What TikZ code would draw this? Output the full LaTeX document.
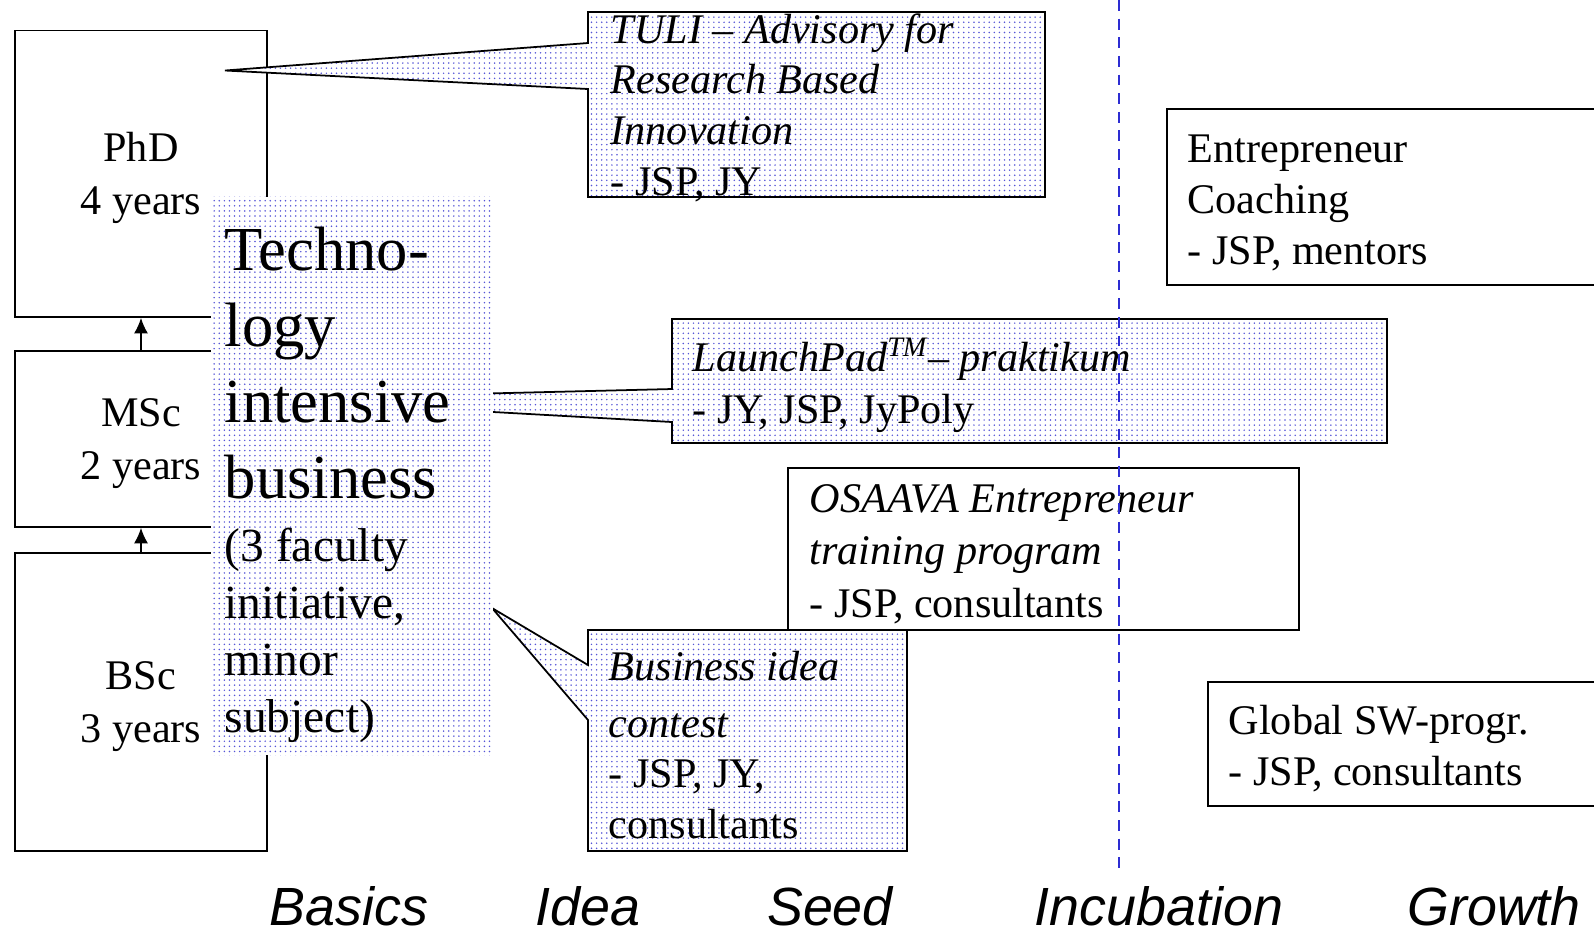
\documentclass[tikz,border=0pt]{standalone}
\usepackage{fontspec}
\setmainfont{Liberation Serif}
\newfontfamily\phasefont{Liberation Sans}
\usetikzlibrary{arrows.meta,patterns.meta}
\definecolor{dotblue}{RGB}{85,85,215}
\definecolor{divider}{RGB}{45,45,210}
\tikzstyle{study box}=[draw, line width=.5pt, align=center, font=\fontsize{12}{15}\selectfont]
\tikzstyle{plain box}=[draw, line width=.5pt]
\tikzstyle{dotty}=[preaction={fill=white}, pattern={Dots[distance=1.45pt,radius=.24pt]}, pattern color=dotblue]
\tikzstyle{bubble}=[dotty, draw, line width=.5pt]
\tikzstyle{blurb}=[anchor=north west, inner sep=0pt, align=left]
\tikzstyle{phase label}=[anchor=base, inner sep=0pt, text depth=0pt, font=\phasefont\itshape\fontsize{15.3}{18}\selectfont]

\begin{document}
\begin{tikzpicture}[x=.01cm,y=-.01cm,>={Latex[length=4.4pt,width=4pt]}]
    \useasboundingbox (0,0) rectangle (1594,935);
    \clip (0,0) rectangle (1594,935);

    % Degrees
    \node[study box, minimum width=2.52cm, minimum height=2.865cm] (phd) at (141,173.75) {\strut PhD\\4 years};
    \node[study box, minimum width=2.52cm, minimum height=1.76cm] (msc) at (141,439) {\strut MSc\\2 years};
    \node[study box, minimum width=2.52cm, minimum height=2.98cm] (bsc) at (141,702) {\strut BSc\\3 years};
    \draw[->] (msc) -- (phd);
    \draw[->] (bsc) -- (msc);

    % Callouts
    \coordinate (tuli tip) at (225,70.5);
    \coordinate (launch tip) at (261,399);
    \coordinate (idea tip) at (492,608);
    \draw[bubble] (588,12) -- (1045,12) -- (1045,197) -- (588,197) -- (588,89) -- (tuli tip) -- (588,43) -- cycle;
    \node[blurb, font=\fontsize{12}{14.4}\selectfont] (tuli) at (610,7)
        {\strut\textit{TULI – Advisory for}\\\textit{Research Based}\\\textit{Innovation}\\- JSP, JY};
    \draw[bubble] (672,319) -- (1387,319) -- (1387,443) -- (672,443) -- (672,422) -- (launch tip) -- (672,389) -- cycle;
    \node[blurb, font=\fontsize{12}{14.6}\selectfont] (launch) at (692,335)
        {\strut\textit{LaunchPad\textsuperscript{TM}– praktikum}\\- JY, JSP, JyPoly};
    \draw[plain box] (788,468) rectangle (1299,630);
    \node[blurb, font=\fontsize{12}{14.9}\selectfont] (osaava) at (809,475)
        {\strut\textit{OSAAVA Entrepreneur}\\\textit{training program}\\- JSP, consultants};
    \draw[bubble] (588,630) -- (907,630) -- (907,851) -- (588,851) -- (588,720) -- (idea tip) -- (588,665) -- cycle;
    \node[blurb, font=\fontsize{12}{14.4}\selectfont] (idea) at (608,644)
        {\strut\textit{Business idea}\\[1.8pt]\textit{contest}\\- JSP, JY,\\consultants};

    % Minor subject
    \node[dotty, anchor=north west, inner sep=0pt, minimum width=2.82cm, minimum height=5.58cm] (tech) at (210,196) {};
    \node[blurb, font=\fontsize{17.8}{21.6}\selectfont] (tech title) at (224,217)
        {\strut Techno-\\logy\\intensive\\business};
    \node[blurb, font=\fontsize{13.5}{16.2}\selectfont] (tech note) at (224,521)
        {\strut(3 faculty\\initiative,\\minor\\subject)};

    % Later phases
    \draw[plain box] (1167,109) rectangle (1620,285);
    \node[blurb, font=\fontsize{12}{14.5}\selectfont] (coach) at (1187,126)
        {\strut Entrepreneur\\Coaching\\- JSP, mentors};
    \draw[plain box] (1208,682) rectangle (1620,806);
    \node[blurb, font=\fontsize{12}{14.5}\selectfont] (global) at (1228,698)
        {\strut Global SW-progr.\\- JSP, consultants};
    \draw[divider, line width=.65pt, dash pattern=on 3.1pt off 2.2pt] (1119,0) -- (1119,872);

    % Phases
    \node[phase label] (basics) at (349,925) {Basics};
    \node[phase label] (idea label) at (588,925) {Idea};
    \node[phase label] (seed) at (830,925) {Seed};
    \node[phase label] (incubation) at (1159,925) {Incubation};
    \node[phase label] (growth) at (1494,925) {Growth};
\end{tikzpicture}
\end{document}
